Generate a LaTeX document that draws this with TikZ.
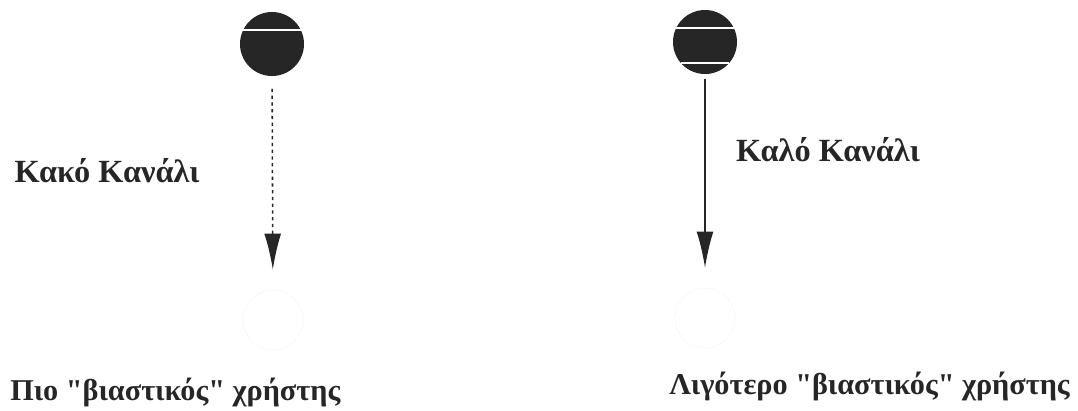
\documentclass[tikz,border=0pt]{standalone}
\usepackage{fontspec}
\setmainfont{Liberation Serif}
\usetikzlibrary{arrows.meta}

\begin{document}
\begin{tikzpicture}[x=0.025cm,y=-0.025cm,>={Latex[length=0.9cm,width=0.42cm]},
  user/.style={circle,fill=black!85,minimum size=1.6cm,inner sep=0pt},
  goal/.style={circle,draw=black!10,densely dotted,minimum size=1.5cm,inner sep=0pt},
  lbl/.style={font=\fontsize{23}{26}\selectfont\bfseries,text=black!85,inner sep=0pt},
  sublbl/.style={lbl,font=\fontsize{21.5}{24}\selectfont\bfseries}]
\useasboundingbox (0,0) rectangle (1078,410);

\node[user] (badsrc) at (272,44) {};
\node[user] (goodsrc) at (705,42) {};
\node[goal] (baddst) at (273,320) {};
\node[goal] (gooddst) at (705,318) {};

% light stripes on the two dark circles
\draw[white,line width=1pt] (243.2,30) -- (300.8,30);
\draw[white,line width=1pt] (676.2,28) -- (733.8,28);
\draw[white,line width=1pt] (680.9,63) -- (729.1,63);

\draw[->,dash pattern=on 2.2pt off 2.6pt,line width=1.1pt,black!85,shorten <=9pt,shorten >=0.5cm] (badsrc) -- (baddst);
\draw[->,line width=1pt,black!85,shorten <=3pt,shorten >=0.5cm] (goodsrc) -- (gooddst);

\node[lbl] (badlbl) at (107,171) {Κακό Κανάλι};
\node[lbl] (goodlbl) at (828,150) {Καλό Κανάλι};
\node[sublbl,anchor=west] (fast) at (10,392) {Πιο \textquotedbl βιαστικός\textquotedbl{} χρήστης};
\node[sublbl,anchor=east] (slow) at (1070,386) {Λιγότερο \textquotedbl βιαστικός\textquotedbl{} χρήστης};
\end{tikzpicture}
\end{document}
